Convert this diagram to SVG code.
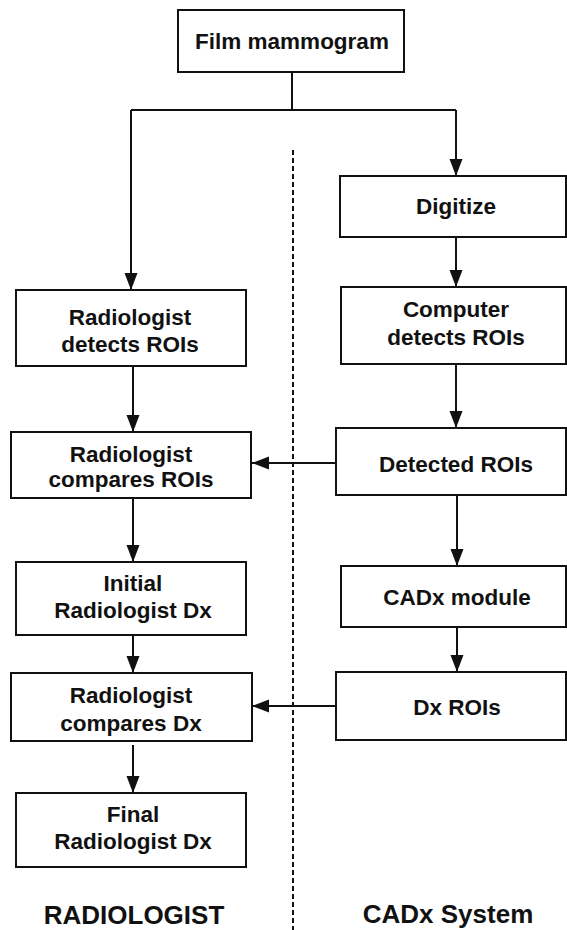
<svg xmlns="http://www.w3.org/2000/svg" width="567" height="930" viewBox="0 0 567 930">
  <style>
    .box { fill: #fff; stroke: #111; stroke-width: 2; }
    .lbl { font-family: "Liberation Sans", Arial, Helvetica, sans-serif; font-weight: bold; font-size: 22.5px; fill: #111; text-anchor: middle; }
    .head { font-family: "Liberation Sans", Arial, Helvetica, sans-serif; font-weight: bold; font-size: 26px; fill: #111; text-anchor: middle; }
    .wire { fill: none; stroke: #111; stroke-width: 2; }
    .arrow { fill: none; stroke: #111; stroke-width: 2; marker-end: url(#tip); }
    .divider { fill: none; stroke: #111; stroke-width: 2; stroke-dasharray: 5 3; }
  </style>
  <defs>
    <marker id="tip" markerUnits="userSpaceOnUse" markerWidth="18" markerHeight="14" refX="17" refY="6.5" orient="auto">
      <path d="M0,0 L17,6.5 L0,13 Z" fill="#111"/>
    </marker>
  </defs>

  <rect width="567" height="930" fill="#fff"/>

  <!-- lane divider -->
  <line class="divider" x1="293" y1="150" x2="293" y2="930"/>

  <g id="connectors">
    <path class="wire" d="M292,72 V110 M131,110 H456"/>
    <path class="arrow" d="M131,110 V290"/>
    <path class="arrow" d="M456,110 V176"/>
    <path class="arrow" d="M456,237 V287"/>
    <path class="arrow" d="M456,364 V428"/>
    <path class="arrow" d="M133,366 V432"/>
    <path class="arrow" d="M336,463 H252"/>
    <path class="arrow" d="M133,498 V562"/>
    <path class="arrow" d="M457,495 V566"/>
    <path class="arrow" d="M457,627 V672"/>
    <path class="arrow" d="M133,635 V673"/>
    <path class="arrow" d="M336,706 H252"/>
    <path class="arrow" d="M133,745 V793"/>
  </g>

  <g id="film">
    <rect class="box" x="178" y="10" width="226" height="62"/>
    <text class="lbl" x="292" y="49">Film mammogram</text>
  </g>

  <g id="digitize">
    <rect class="box" x="340" y="176" width="226" height="61"/>
    <text class="lbl" x="456" y="214">Digitize</text>
  </g>

  <g id="computer-detects">
    <rect class="box" x="341" y="287" width="225" height="77"/>
    <text class="lbl" x="456" y="317">Computer</text>
    <text class="lbl" x="456" y="345">detects ROIs</text>
  </g>

  <g id="detected-rois">
    <rect class="box" x="336" y="428" width="230" height="67"/>
    <text class="lbl" x="456" y="472">Detected ROIs</text>
  </g>

  <g id="cadx-module">
    <rect class="box" x="341" y="566" width="225" height="61"/>
    <text class="lbl" x="457" y="605">CADx module</text>
  </g>

  <g id="dx-rois">
    <rect class="box" x="336" y="672" width="230" height="68"/>
    <text class="lbl" x="457" y="715">Dx ROIs</text>
  </g>

  <g id="rad-detects">
    <rect class="box" x="16" y="290" width="230" height="76"/>
    <text class="lbl" x="130" y="325">Radiologist</text>
    <text class="lbl" x="130" y="352">detects ROIs</text>
  </g>

  <g id="rad-compares-rois">
    <rect class="box" x="11" y="432" width="240" height="66"/>
    <text class="lbl" x="131" y="462">Radiologist</text>
    <text class="lbl" x="131" y="487">compares ROIs</text>
  </g>

  <g id="initial-dx">
    <rect class="box" x="16" y="562" width="230" height="73"/>
    <text class="lbl" x="133" y="591">Initial</text>
    <text class="lbl" x="133" y="618">Radiologist Dx</text>
  </g>

  <g id="rad-compares-dx">
    <rect class="box" x="11" y="673" width="241" height="68"/>
    <text class="lbl" x="131" y="703">Radiologist</text>
    <text class="lbl" x="131" y="731">compares Dx</text>
  </g>

  <g id="final-dx">
    <rect class="box" x="16" y="793" width="230" height="74"/>
    <text class="lbl" x="133" y="822">Final</text>
    <text class="lbl" x="133" y="849">Radiologist Dx</text>
  </g>

  <text class="head" x="134" y="924">RADIOLOGIST</text>
  <text class="head" x="448" y="923">CADx System</text>
</svg>
